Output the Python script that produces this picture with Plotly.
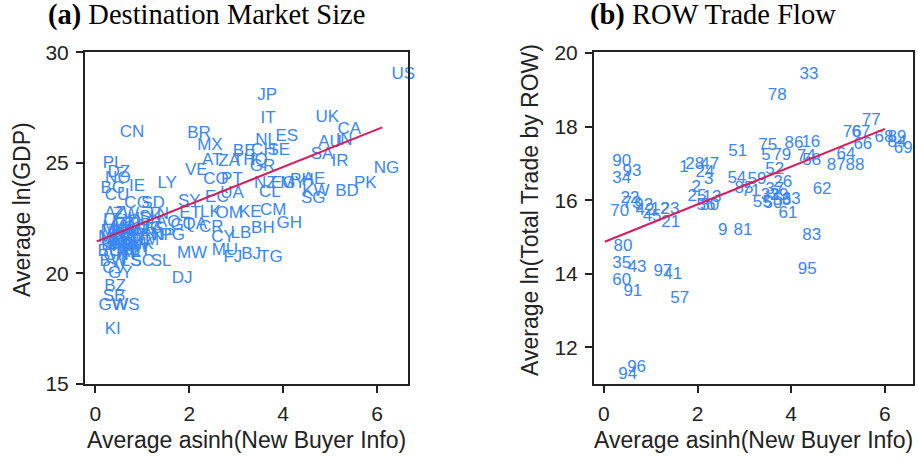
import plotly.graph_objects as go

# ---------------- Panel (a): destination market size ----------------
gdp_codes = [
    "US", "JP", "IT", "UK", "CA", "AU", "IN", "CN", "BR", "MX",
    "NL", "ES", "CH", "SE", "BE", "SA", "IR", "NG", "PK", "BD",
    "KW", "SG", "PH", "AE", "EG", "MY", "NZ", "CL", "AT", "ZA",
    "TH", "IQ", "GR", "VE", "CO", "PT", "LY", "IE", "PL", "DZ",
    "NO", "BG", "CU", "CG", "SD", "SY", "EC", "UA", "AZ", "ZW",
    "TN", "ET", "LK", "OM", "KE", "CM", "GH", "CR", "LB", "CY",
    "BH", "MU", "FJ", "BJ", "TG", "MW", "DJ", "SL", "NP", "PG",
    "QA", "AO", "UG", "GT", "MA", "JO", "MG", "NE", "ML", "TD",
    "BF", "NI", "HN", "SV", "PY", "BO", "BI", "BT", "BW", "LS",
    "SC", "GY", "CV", "BZ", "SB", "GW", "WS", "KI", "LT", "HR",
    "SK", "SI", "LV", "EE", "BA", "MN", "KG", "RW", "GN", "HT",
    "MZ", "ZM", "NA", "JM", "AL", "MK", "MD", "AM", "GE", "LA",
]
gdp_x = [
    6.56, 3.66, 3.68, 4.94, 5.41, 5.00, 5.30, 0.78, 2.21, 2.44,
    3.64, 4.08, 3.58, 3.91, 3.17, 4.83, 5.21, 6.20, 5.75, 5.36,
    4.70, 4.64, 4.40, 4.66, 4.00, 4.21, 3.62, 3.72, 2.49, 2.85,
    3.17, 3.48, 3.56, 2.15, 2.57, 2.91, 1.53, 0.89, 0.38, 0.50,
    0.48, 0.37, 0.46, 0.89, 1.23, 2.00, 2.59, 2.91, 0.42, 0.65,
    1.33, 2.02, 2.45, 2.85, 3.30, 3.79, 4.13, 2.47, 3.10, 2.72,
    3.57, 2.76, 2.93, 3.32, 3.74, 2.06, 1.85, 1.40, 1.44, 1.65,
    2.12, 1.55, 1.17, 1.85, 0.42, 0.74, 0.40, 0.63, 0.36, 0.53,
    0.36, 0.85, 1.06, 0.78, 0.53, 0.31, 0.74, 0.95, 0.38, 0.76,
    1.00, 0.53, 0.40, 0.42, 0.40, 0.38, 0.65, 0.37, 0.36, 0.95,
    1.17, 0.78, 0.48, 0.57, 0.74, 0.53, 0.63, 0.85, 0.44, 0.68,
    0.91, 1.10, 0.59, 0.46, 0.72, 0.97, 0.34, 0.57, 1.02, 1.21,
]
gdp_y = [
    29.00, 28.05, 27.01, 27.05, 26.51, 25.92, 26.01, 26.38, 26.33, 25.79,
    26.01, 26.19, 25.56, 25.56, 25.51, 25.38, 25.06, 24.74, 24.06, 23.70,
    23.70, 23.38, 24.20, 24.25, 24.06, 24.06, 24.06, 23.66, 25.11, 25.06,
    25.11, 25.11, 24.83, 24.65, 24.25, 24.25, 24.06, 23.93, 24.97, 24.56,
    24.29, 23.84, 23.52, 23.16, 23.16, 23.25, 23.43, 23.61, 22.71, 22.66,
    22.66, 22.71, 22.75, 22.71, 22.75, 22.84, 22.25, 22.07, 21.80, 21.62,
    22.03, 21.03, 20.71, 20.85, 20.71, 20.89, 19.76, 20.53, 21.71, 21.71,
    22.21, 22.30, 22.03, 22.16, 22.07, 22.34, 21.89, 21.66, 21.53, 21.34,
    21.25, 21.57, 21.71, 21.21, 21.07, 20.98, 21.03, 21.03, 20.53, 20.53,
    20.53, 19.99, 20.21, 19.40, 18.94, 18.54, 18.54, 17.45, 22.39, 22.43,
    22.52, 22.03, 21.80, 21.48, 21.75, 21.25, 21.39, 21.16, 20.80, 20.85,
    21.89, 21.48, 21.93, 21.34, 20.93, 21.30, 21.62, 22.16, 21.98, 21.98,
]
gdp_fit_x = [0.03, 6.11]
gdp_fit_intercept = 21.415
gdp_fit_slope = 0.849

# ---------------- Panel (b): rest-of-world trade flow ----------------
row_ids = [
    "33", "78", "77", "76", "67", "66", "68", "89", "84", "69",
    "64", "87", "88", "62", "83", "95", "86", "16", "75", "5",
    "79", "74", "58", "52", "26", "63", "61", "54", "59", "85",
    "71", "37", "32", "39", "55", "50", "53", "51", "1", "28",
    "47", "24", "3", "2", "25", "13", "56", "30", "90", "93",
    "34", "22", "73", "92", "70", "42", "12", "23", "45", "21",
    "80", "35", "43", "60", "91", "97", "41", "57", "9", "81",
    "94", "96",
]
row_x = [
    4.38, 3.70, 5.71, 5.30, 5.49, 5.53, 5.98, 6.26, 6.26, 6.39,
    5.17, 4.96, 5.36, 4.66, 4.44, 4.34, 4.06, 4.42, 3.50, 3.46,
    3.80, 4.32, 4.44, 3.65, 3.82, 4.00, 3.93, 2.84, 3.27, 2.99,
    3.14, 3.65, 3.55, 3.74, 3.38, 3.61, 3.80, 2.86, 1.71, 1.94,
    2.26, 2.16, 2.24, 1.97, 1.99, 2.31, 2.18, 2.26, 0.38, 0.60,
    0.38, 0.56, 0.60, 0.85, 0.34, 0.88, 1.20, 1.41, 1.03, 1.43,
    0.41, 0.38, 0.71, 0.38, 0.62, 1.26, 1.47, 1.62, 2.54, 2.97,
    0.51, 0.70,
]
row_y = [
    19.40, 18.83, 18.15, 17.83, 17.83, 17.50, 17.69, 17.69, 17.56, 17.39,
    17.23, 16.93, 16.93, 16.28, 15.03, 14.11, 17.53, 17.56, 17.48, 17.20,
    17.20, 17.18, 17.07, 16.82, 16.47, 16.01, 15.63, 16.58, 16.55, 16.31,
    16.23, 16.28, 16.12, 16.12, 15.93, 15.90, 15.98, 17.31, 16.88, 16.96,
    16.96, 16.74, 16.55, 16.34, 16.09, 16.07, 15.85, 15.85, 17.04, 16.77,
    16.58, 16.04, 15.90, 15.85, 15.69, 15.71, 15.74, 15.74, 15.55, 15.39,
    14.74, 14.27, 14.17, 13.81, 13.51, 14.06, 13.98, 13.32, 15.17, 15.17,
    11.26, 11.45,
]
row_fit_x = [0.02, 6.00]
row_fit_intercept = 14.86
row_fit_slope = 0.513

x_ticks = [0, 2, 4, 6]
gdp_ticks = [15, 20, 25, 30]
row_ticks = [12, 14, 16, 18, 20]

LABEL_BLUE = "#3a86f2"
FIT_RED = "#d81b5a"
AXIS_INK = "#222222"
SANS = "Liberation Sans, Arial, sans-serif"
SERIF = "Liberation Serif, Times New Roman, serif"

W, H = 918, 459

fig = go.Figure()

fig.add_trace(go.Scatter(
    x=gdp_x, y=gdp_y, text=gdp_codes, mode="text",
    textposition="middle center", cliponaxis=False,
    textfont=dict(family=SANS, size=17, color=LABEL_BLUE),
    xaxis="x", yaxis="y", showlegend=False, hoverinfo="skip",
))
fig.add_trace(go.Scatter(
    x=gdp_fit_x,
    y=[gdp_fit_intercept + gdp_fit_slope * v for v in gdp_fit_x],
    mode="lines", line=dict(color=FIT_RED, width=2),
    xaxis="x", yaxis="y", showlegend=False, hoverinfo="skip",
))

fig.add_trace(go.Scatter(
    x=row_x, y=row_y, text=row_ids, mode="text",
    textposition="middle center", cliponaxis=False,
    textfont=dict(family=SANS, size=17, color=LABEL_BLUE),
    xaxis="x2", yaxis="y2", showlegend=False, hoverinfo="skip",
))
fig.add_trace(go.Scatter(
    x=row_fit_x,
    y=[row_fit_intercept + row_fit_slope * v for v in row_fit_x],
    mode="lines", line=dict(color=FIT_RED, width=2),
    xaxis="x2", yaxis="y2", showlegend=False, hoverinfo="skip",
))

axis_common = dict(
    showline=True, mirror=True, linecolor=AXIS_INK, linewidth=2,
    ticks="outside", ticklen=7, tickwidth=1.5, tickcolor=AXIS_INK,
    showgrid=False, zeroline=False, automargin=False,
    tickfont=dict(family=SANS, size=21, color=AXIS_INK),
    ticklabelstandoff=3,
)

# plot boxes in pixel space
left_box = (85, 408)
right_box = (594, 913)
top_px, bottom_px = 52, 384
ydom = [1 - bottom_px / H, 1 - top_px / H]

fig.update_layout(
    width=W, height=H,
    margin=dict(l=0, r=0, t=0, b=0, autoexpand=False),
    paper_bgcolor="white", plot_bgcolor="white",
    xaxis=dict(domain=[left_box[0] / W, left_box[1] / W], range=[-0.22, 6.66],
               tickvals=x_ticks, anchor="y", **axis_common),
    yaxis=dict(domain=ydom, range=[14.98, 30.02], tickvals=gdp_ticks,
               anchor="x", **axis_common),
    xaxis2=dict(domain=[right_box[0] / W, right_box[1] / W], range=[-0.21, 6.60],
                tickvals=x_ticks, anchor="y2", **axis_common),
    yaxis2=dict(domain=ydom, range=[11.0, 20.03], tickvals=row_ticks,
                anchor="x2", **axis_common),
)

def px_x(p):
    return p / W

def px_y(p):
    return 1 - p / H

annotations = [
    dict(text="<b>(a)</b> Destination Market Size", x=px_x(206), y=px_y(15),
         font=dict(family=SERIF, size=28.5, color="black")),
    dict(text="<b>(b)</b> ROW Trade Flow", x=px_x(713), y=px_y(15),
         font=dict(family=SERIF, size=28.5, color="black")),
    dict(text="Average asinh(New Buyer Info)", x=px_x(sum(left_box) / 2), y=px_y(440),
         font=dict(family=SANS, size=23, color=AXIS_INK)),
    dict(text="Average asinh(New Buyer Info)", x=px_x(sum(right_box) / 2), y=px_y(440),
         font=dict(family=SANS, size=23, color=AXIS_INK)),
    dict(text="Average ln(GDP)", x=px_x(22), y=px_y(210), textangle=-90,
         font=dict(family=SANS, size=23, color=AXIS_INK)),
    dict(text="Average ln(Total Trade by ROW)", x=px_x(530), y=px_y(210), textangle=-90,
         font=dict(family=SANS, size=23, color=AXIS_INK)),
]
for a in annotations:
    a.update(xref="paper", yref="paper", showarrow=False,
             xanchor="center", yanchor="middle")
fig.update_layout(annotations=annotations)

fig.write_html("out.html")
